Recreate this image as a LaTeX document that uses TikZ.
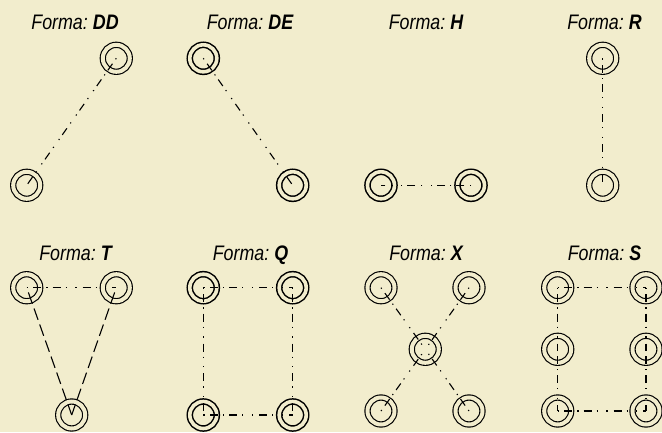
\documentclass[tikz,border=0pt]{standalone}
\usepackage{fontspec}
\setmainfont[FakeStretch=0.85]{Liberation Sans}
\definecolor{paper}{HTML}{F2EDCD}
\tikzset{
  ring/.style={circle,draw=black,line width=1.15pt,double=paper,double distance=4pt,minimum size=27pt,inner sep=0pt,outer sep=0pt},
  ringb/.style={ring,line width=1.5pt,double distance=3.6pt},
  title/.style={anchor=base,inner sep=0pt,font=\fontsize{21}{23}\selectfont\itshape},
  dd/.style={line width=1.1pt,dash pattern=on 1.2pt off 5.5pt on 8pt off 5pt on 1.2pt off 5pt
     on 8pt off 5pt on 1.2pt off 8.5pt on 1.2pt off 6pt
     on 8pt off 5pt on 1.2pt off 8.5pt on 1.2pt off 6pt
     on 8pt off 5pt on 1.2pt off 8.5pt on 1.2pt off 6pt
     on 8pt off 5pt on 1.2pt off 8.5pt on 1.2pt off 6pt
     on 8pt off 5pt on 1.2pt off 8.5pt on 1.2pt off 6pt},
  dl/.style={line width=1.1pt,dash pattern=on 12pt off 5pt,dash phase=12pt},
}
\begin{document}
\begin{tikzpicture}[x=1pt,y=-1pt]
\useasboundingbox[fill=paper] (0,0) rectangle (662,432);
% titles
\node[title] (t1) at (75,29) {Forma:\hspace{5pt}\textbf{DD}};
\node[title] (t2) at (250,29) {Forma:\hspace{5pt}\textbf{DE}};
\node[title] (t3) at (426,29) {Forma:\hspace{5pt}\textbf{H}};
\node[title] (t4) at (604.5,29) {Forma:\hspace{5pt}\textbf{R}};
\node[title] (t5) at (75.5,260) {Forma:\hspace{5pt}\textbf{T}};
\node[title] (t6) at (250.5,260) {Forma:\hspace{5pt}\textbf{Q}};
\node[title] (t7) at (426,260) {Forma:\hspace{5pt}\textbf{X}};
\node[title] (t8) at (604.5,260) {Forma:\hspace{5pt}\textbf{S}};
% nodes
\node[ring] (dd1) at (116.3,58.3) {};
\node[ring] (dd2) at (26.7,185.3) {};
\node[ringb] (de1) at (203.3,58.3) {};
\node[ringb] (de2) at (292.7,185.3) {};
\node[ringb] (h1) at (381,185.3) {};
\node[ringb] (h2) at (471,185.3) {};
\node[ring] (r1) at (602.7,58.3) {};
\node[ring] (r2) at (602.7,185.3) {};
\node[ring] (t1a) at (26.7,287.7) {};
\node[ring] (t1b) at (116.3,287.7) {};
\node[ring] (t1c) at (71.7,415) {};
\node[ringb] (q1) at (203.3,287.7) {};
\node[ringb] (q2) at (292.7,287.7) {};
\node[ringb] (q3) at (203.3,415) {};
\node[ringb] (q4) at (292.7,415) {};
\node[ring] (x1) at (381,287.7) {};
\node[ring] (x2) at (469,287.7) {};
\node[ring] (x3) at (425.3,349.3) {};
\node[ring] (x4) at (381,411) {};
\node[ring] (x5) at (469,411) {};
\node[ring] (s1) at (557.7,287.7) {};
\node[ring] (s2) at (646,287.7) {};
\node[ring] (s3) at (557.7,349.3) {};
\node[ring] (s4) at (646,349.3) {};
\node[ring] (s5) at (557.7,411) {};
\node[ring] (s6) at (646,411) {};
% connectors
\draw[dd] (dd1.center) -- (dd2.center);
\draw[dd] (de1.center) -- (de2.center);
\draw[dd] (h2.center) -- (h1.center);
\draw[dd] (r1.center) -- (r2.center);
\draw[dd] (t1a.center) -- (t1b.center);
\draw[dl] (t1a.center) -- (t1c.center);
\draw[dl] (t1b.center) -- (t1c.center);
\draw[dd] (q1.center) -- (q2.center);
\draw[dd] (q1.center) -- (q3.center);
\draw[dd] (q2.center) -- (q4.center);
\draw[dd] (q3.center) -- (q4.center);
\draw[dd] (x1.center) -- (x3.center);
\draw[dd] (x2.center) -- (x3.center);
\draw[dd] (x4.center) -- (x3.center);
\draw[dd] (x5.center) -- (x3.center);
\draw[dd] (s1.center) -- (s2.center);
\draw[dd] (s1.center) -- (s3.center);
\draw[dd] (s3.center) -- (s5.center);
\draw[dd] (s2.center) -- (s4.center);
\draw[dd] (s4.center) -- (s6.center);
\draw[dd] (s5.center) -- (s6.center);
\end{tikzpicture}
\end{document}
